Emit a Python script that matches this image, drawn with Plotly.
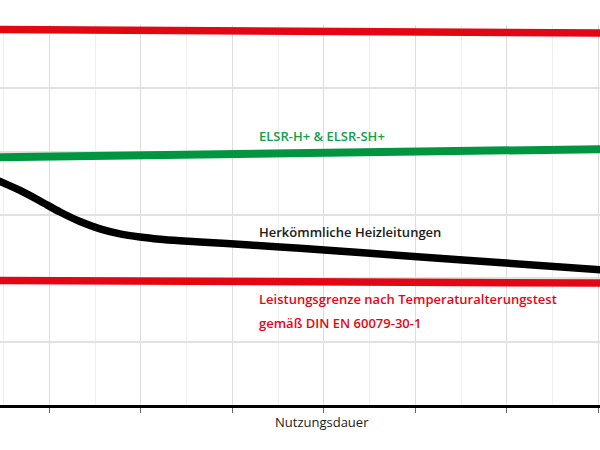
#!/usr/bin/env python3
# Heizleitungen: Leistung ueber Nutzungsdauer (schematisch)
import plotly.graph_objects as go

# x in Zeit-Einheiten (keine Beschriftung), y in Leistungs-Einheiten
x_ends = [0.35, 7.13]

limit_top = [5.93, 5.872]        # rote Linie oben
elsr = [3.91, 4.042]             # ELSR-H+ & ELSR-SH+
limit_low = [1.968, 1.925]       # Leistungsgrenze

conv_x = [0.352, 0.461, 0.680, 0.898, 1.117, 1.335, 1.554, 1.772, 1.991, 2.210,
          2.428, 2.647, 3.193, 3.740, 4.985, 5.991, 7.128]
conv_y = [3.597, 3.529, 3.387, 3.221, 3.047, 2.897, 2.782, 2.703, 2.653, 2.618,
          2.594, 2.574, 2.526, 2.474, 2.345, 2.242, 2.124]

RED = "#e30613"
GREEN = "#009640"
FONT = "Open Sans"

fig = go.Figure()

fig.add_trace(go.Scatter(x=x_ends, y=limit_top, mode="lines",
                         line=dict(color=RED, width=7.5)))
fig.add_trace(go.Scatter(x=x_ends, y=elsr, mode="lines",
                         line=dict(color=GREEN, width=8)))
fig.add_trace(go.Scatter(x=x_ends, y=limit_low, mode="lines",
                         line=dict(color=RED, width=7.5)))
fig.add_trace(go.Scatter(x=conv_x, y=conv_y, mode="lines",
                         line=dict(color="black", width=7.5, shape="spline", smoothing=0.8)))

labels = [
    ("ELSR-H+ & ELSR-SH+", 4.25, "#13a04b"),
    ("Herkömmliche Heizleitungen", 2.736, "#1a1a1a"),
    ("Leistungsgrenze nach Temperaturalterungstest", 1.674, RED),
    ("gemäß DIN EN 60079-30-1", 1.29, RED),
]
for txt, yy, col in labels:
    fig.add_annotation(x=3.27, y=yy, xref="x", yref="y", text=txt, showarrow=False,
                       xanchor="left", yanchor="middle",
                       font=dict(family=FONT, size=13, color=col, weight=600))

fig.add_annotation(x=0.536, y=-0.0447, xref="paper", yref="paper", text="Nutzungsdauer",
                   showarrow=False, xanchor="center", yanchor="middle",
                   font=dict(family=FONT, size=13, color="#1a1a1a"))

fig.update_layout(
    width=600, height=450,
    margin=dict(l=0, r=0, t=25, b=45),
    plot_bgcolor="white", paper_bgcolor="white",
    showlegend=False,
)
fig.update_xaxes(range=[0.461, 7.019], dtick=1, tick0=0, showticklabels=False,
                 showgrid=True, gridcolor="#dddddd", gridwidth=1,
                 minor=dict(dtick=0.5, tick0=0, showgrid=True, gridcolor="#efefef", gridwidth=1),
                 ticks="outside", ticklen=5, tickcolor="#666666", tickwidth=1,
                 showline=True, linecolor="black", linewidth=2.5, zeroline=False)
fig.update_yaxes(range=[0, 6], dtick=1, showticklabels=False,
                 showgrid=True, gridcolor="#e2e2e2", gridwidth=1.5,
                 zeroline=False, showline=False)

# browser default body margin would shift the 600x450 figure
fig.write_html("out.html", config={"displayModeBar": False},
               post_script="document.body.style.margin='0';")
